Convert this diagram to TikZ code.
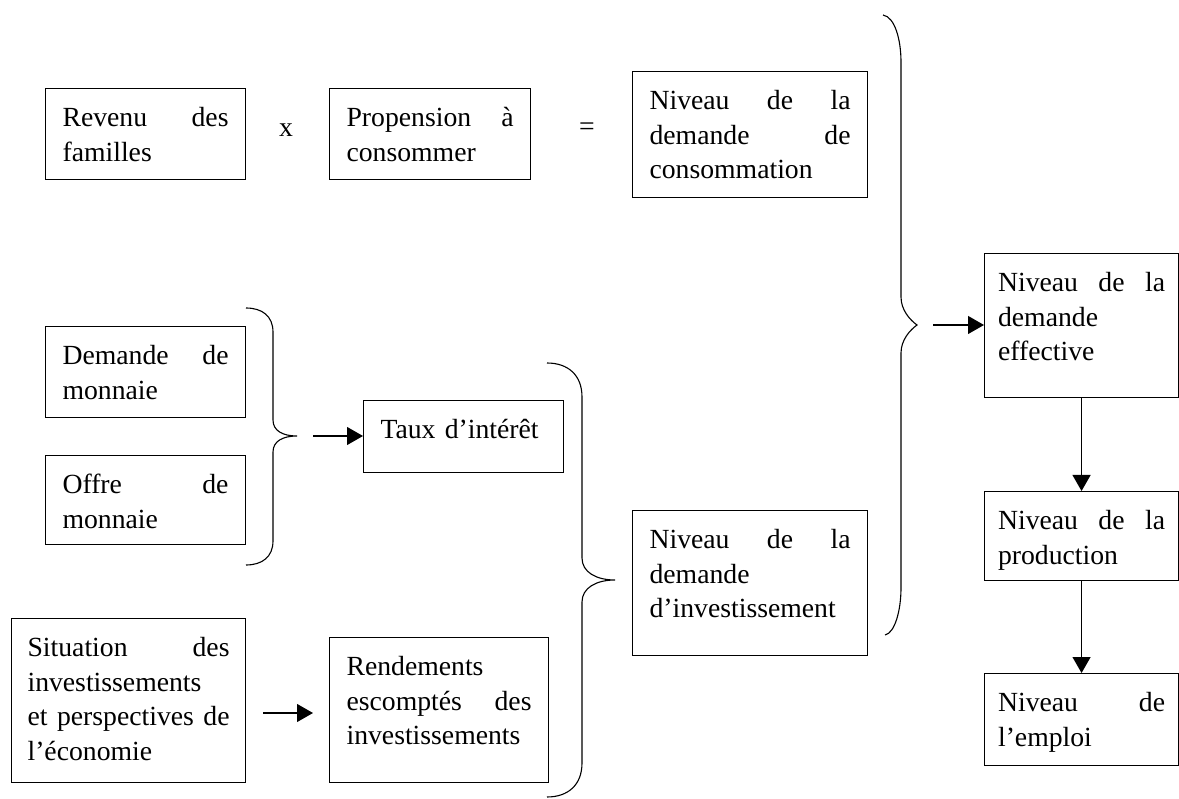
\documentclass[tikz,border=0pt]{standalone}
\usepackage{fontspec}
\setmainfont{Liberation Serif}
\usetikzlibrary{arrows.meta}

\tikzset{
  bloc/.style={draw, line width=1.1pt, anchor=north west, align=left,
    inner xsep=17pt, inner ysep=0pt, text height=38pt,
    font=\fontsize{27.7pt}{34.5pt}\selectfont},
  droite/.style={bloc, inner xsep=13.5pt, text width=167pt},
  signe/.style={font=\fontsize{27.7pt}{34.5pt}\selectfont},
  fleche/.style={line width=1.1pt, -{Triangle[length=16pt,width=18pt]}},
  accolade/.style={line width=1.1pt}
}

\begin{document}
\begin{tikzpicture}[x=1pt,y=-1pt]
  \useasboundingbox (0,0) rectangle (1179,799);

  % consommation
  \node[bloc, text width=166pt, text depth=53pt] (revenu) at (45,88) {Revenu\hfill des\\familles};
  \node[signe] (fois) at (286,130) {x};
  \node[bloc, text width=167pt, text depth=53pt] (propension) at (329,88) {Propension\hfill à\\consommer};
  \node[signe] (egal) at (587,129) {=};
  \node[bloc, text width=201pt, text depth=88pt] (conso) at (632,71) {Niveau\hfill de\hfill la\\demande\hfill de\\consommation};

  % monnaie et taux
  \node[bloc, text width=166pt, text depth=53pt] (demande) at (45,326) {Demande\hfill de\\monnaie};
  \node[bloc, text width=166pt, text depth=51pt] (offre) at (45,455) {Offre\hfill de\\monnaie};
  \node[bloc, text width=166pt, text depth=34pt] (taux) at (363,400) {Taux d’intérêt};

  % investissement
  \node[bloc, inner xsep=16pt, text width=202pt, text depth=126pt] (situation) at (11,618) {Situation\hfill des\\investissements\\et\hfill perspectives\hfill de\\l’économie};
  \node[bloc, text width=185pt, text depth=107pt] (rendements) at (329,637) {Rendements\\escomptés\hfill des\\investissements};
  \node[bloc, text width=201pt, text depth=107pt] (invest) at (632,510) {Niveau\hfill de\hfill la\\demande\\d’investissement};

  % colonne de droite
  \node[droite, text depth=106pt] (effective) at (984,253) {Niveau\hfill de\hfill la\\demande\\effective};
  \node[droite, text depth=51pt] (production) at (984,491) {Niveau\hfill de\hfill la\\production};
  \node[droite, text depth=54pt] (emploi) at (984,673) {Niveau\hfill de\\l’emploi};

  % accolades
  \draw[accolade] (246,308) .. controls (262,308) and (273,316) .. (273,332) -- (273,420)
    .. controls (273,431) and (283,436) .. (297,436) .. controls (283,436) and (273,441) .. (273,452)
    -- (273,541) .. controls (273,557) and (262,565) .. (246,565);
  \draw[accolade] (547,363) .. controls (568,363) and (582,375) .. (582,397) -- (582,558)
    .. controls (582,572) and (596,580) .. (615,580) .. controls (596,580) and (582,588) .. (582,602)
    -- (582,763) .. controls (582,785) and (568,797) .. (547,797);
  \draw[accolade] (883,15) .. controls (895,17) and (901,40) .. (901,62) -- (901,297)
    .. controls (901,310) and (910,320) .. (917,325) .. controls (910,330) and (901,340) .. (901,353)
    -- (901,588) .. controls (901,610) and (895,633) .. (885,635);

  \coordinate (pointe1) at (297,436);
  \coordinate (pointe3) at (917,325);
  \coordinate (depart) at (263,713);

  % fleches
  \draw[fleche, shorten <=16pt] (pointe1) -- (pointe1 -| taux.west);
  \draw[fleche, shorten >=16pt] (depart) -- (depart -| rendements.west);
  \draw[fleche, shorten <=16pt] (pointe3) -- (pointe3 -| effective.west);
  \draw[fleche] (effective.south) -- (production.north);
  \draw[fleche] (production.south) -- (emploi.north);
\end{tikzpicture}
\end{document}
